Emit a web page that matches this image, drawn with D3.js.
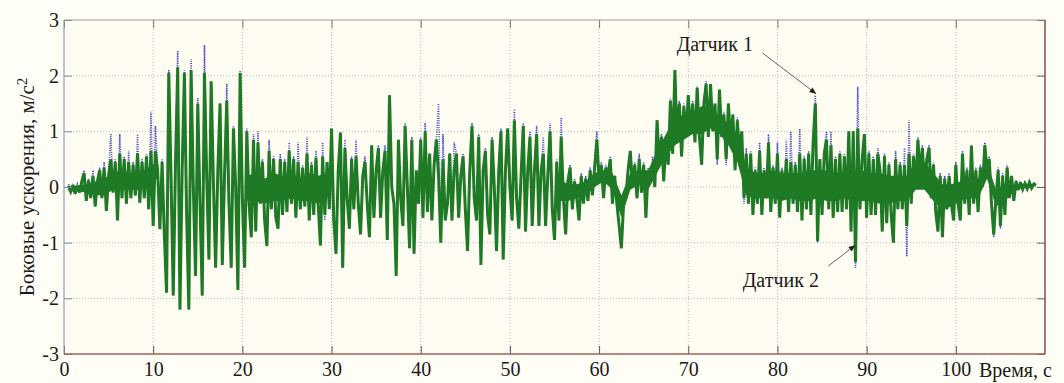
<!DOCTYPE html>
<html>
<head>
<meta charset="utf-8">
<script src="https://cdn.jsdelivr.net/npm/d3@7"></script>
<style>
  body { margin: 0; background: #fffef6; }
  text { font-family: "Liberation Serif", "DejaVu Serif", serif; }
</style>
</head>
<body>
<div id="chart"></div>
<script>
// time axis, s
var xTicks = [0, 10, 20, 30, 40, 50, 60, 70, 80, 90, 100];
var yTicks = [-3, -2, -1, 0, 1, 2, 3];
var xLabel = "Время, с";
var yLabel = "Боковые ускорения, м/с";

// samples start at t0, step dt (s)
var t0 = 0.5, dt = 0.25;

// green trace, m/s^2
var sensorGreen = [
  0.02, -0.08,
  0.03, -0.12, 0.02, -0.1,   0.1, 0.25, -0.25, 0.12,
  -0.2, 0.2, -0.35, 0.1,     0.3, -0.2, 0.35, -0.43,
  0.2, 0.5, -0.1, 0.45,      -0.6, 0.6, -0.2, 0.5,
  -0.3, 0.45, -0.2, 0.4,     -0.15, 0.6, -0.28, 0.45,
  -0.2, 0.55, -0.4, 0.65,    -0.7, 0.65, 0.3, -0.76,
  0.45, -0.85, -1.9, 2.05,   0.2, -1.95, 0.4, 2.15,
  -2.2, 0.3, 2.05, -0.5,     -2.2, 2.1, 0.0, -1.6,
  1.5, -0.3, -1.95, 2.05,    0.2, -1.3, 1.9, 0.1,
  -1.45, 0.3, 1.5, -1.4,     0.2, 1.55, -0.3, -1.45,
  1.05, 0.0, -1.85, 2.05,    -0.2, -1.45, 1.0, -0.3,
  -0.9, 0.85, -0.8, 0.8,     -0.3, 0.45, -0.6, -1.06,
  0.65, -0.4, 0.5, -0.55,    -0.75, 0.5, -0.5, 0.45,
  -0.45, 0.65, -0.3, 0.5,    -0.55, 0.45, -0.4, 0.35,
  -0.35, 0.6, -0.6, 0.4,     -0.5, 0.53, -0.3, -1.05,
  0.55, -0.5, 0.45, -0.4,    1.05, -0.6, -1.2, 0.3,
  0.98, -1.45, 0.7, -0.2,    -0.75, 0.5, -0.4, 0.55,
  -0.3, -0.85, 0.2, 0.45,    -0.3, -0.9, 0.75, -0.55,
  0.3, 0.7, -0.55, 0.3,      0.65, -0.95, 1.65, 0.0,
  -0.3, -1.6, 0.85, -0.2,    -0.7, 1.1, 0.0, -1.1,
  0.85, -1.2, 0.3, -0.3,     0.85, -0.55, 1.0, -0.45,
  0.6, -0.6, 0.4, 0.85,      0.2, -1.0, 0.5, -0.6,
  -0.3, 0.6, -0.6, 0.3,      0.6, -0.55, 0.2, 0.55,
  -0.4, -1.15, 0.3, 1.1,     -0.2, -0.6, 0.9, -1.4,
  0.3, 0.65, -0.5, -0.85,    0.85, 0.0, -1.15, 0.3,
  1.0, -1.3, 0.3, 1.05,      0.0, -0.6, 1.2, -0.2,
  -0.75, 0.2, 1.1, -0.8,     0.3, 0.9, -0.7, 0.3,
  0.95, -0.7, 0.3, 0.6,      -0.7, 0.2, 1.0, -0.4,
  -0.95, 0.45, -0.6, 0.9,    -0.2, -0.85, 0.1, 0.35,
  -0.4, 0.1, -0.2, -0.6,     0.2, -0.3, 0.15, -0.25,
  0.3, -0.15, 0.35, 0.85,    0.1, 0.4, -0.2, 0.35,
  0.2, 0.5, -0.3, 0.2,       -0.3, -0.7, -1.1, -0.3,
  -0.2, 0.3, 0.65, 0.0,      0.4, -0.2, 0.5, -0.1,
  0.4, -0.55, 0.3, 0.1,      0.4, 0.0, 1.2, 0.4,
  0.9, 0.1, 0.85, 0.4,       1.55, 0.6, 2.1, 0.8,
  1.5, 0.55, 1.45, 0.9,      1.65, 1.0, 1.5, 0.8,
  1.78, 0.9, 0.4, 1.5,       1.85, 0.9, 1.85, 1.0,
  1.5, 0.5, 1.75, 0.9,       1.3, 0.5, 1.5, 0.8,
  1.3, 0.3, 1.2, 0.6,        1.0, -0.2, 0.6, -0.3,
  0.6, -0.5, 0.3, -0.3,      0.65, -0.5, 0.3, -0.2,
  0.8, -0.45, 0.35, -0.3,    0.6, -0.55, 0.3, -0.2,
  0.5, -0.45, 0.45, -0.3,    0.4, -0.45, 0.6, -0.6,
  0.5, -0.4, 0.6, -0.5,      0.8, 1.5, -0.97, 0.5,
  -0.5, 0.6, 0.85, -0.4,     0.75, -0.55, 0.5, -0.45,
  0.6, -0.45, 0.55, -0.4,    1.0, -0.8, 1.0, -1.35,
  1.05, -0.4, 0.5, 0.95,     -0.55, 0.6, -0.5, 0.5,
  -0.5, 0.6, 0.3, -0.8,      0.55, -0.65, 0.4, -0.5,
  -1.0, 0.5, -0.4, 0.4,      -0.4, 0.4, -0.7, 0.6,
  -0.3, 0.55, 0.0, 0.85,     0.2, 0.7, 0.0, 0.5,
  0.7, -0.2, 0.4, -0.45,     -0.8, 0.2, -0.9, 0.15,
  -0.4, 0.2, -0.3, -0.6,     0.4, -0.3, -0.6, 0.6,
  -0.3, 0.3, -0.5, 0.74,     -0.3, 0.3, -0.45, 0.35,
  0.0, 0.75, 0.3, 0.5,       -0.3, -0.85, -0.2, 0.3,
  -0.7, 0.2, -0.5, 0.35,     -0.2, 0.2, -0.25, 0.1,
  -0.05, 0.08, -0.04, 0.06,  -0.03, 0.08, -0.02, 0.05,
  0.03
];

// blue dotted trace, m/s^2
var sensorBlue = [
  0.05, -0.05,
  0.06, -0.1, 0.05, -0.08,   0.12, 0.3, -0.25, 0.15,
  -0.2, 0.3, -0.35, 0.15,    0.35, -0.2, 0.45, -0.43,
  0.25, 0.95, -0.1, 0.5,     -0.6, 0.95, -0.2, 0.55,
  -0.3, 0.65, -0.2, 0.45,    -0.15, 0.95, -0.28, 0.5,
  -0.2, 0.6, -0.4, 1.35,     -0.7, 1.1, 0.3, -0.76,
  0.5, -0.85, -1.9, 2.1,     0.2, -1.95, 0.5, 2.45,
  -2.2, 0.3, 2.1, -0.5,      -2.2, 2.3, 0.0, -1.6,
  1.6, -0.3, -1.95, 2.55,    0.2, -1.3, 1.9, 0.1,
  -1.45, 0.3, 1.5, -1.4,     0.2, 1.85, -0.3, -1.45,
  1.1, 0.0, -1.85, 2.1,      -0.2, -1.45, 1.05, -0.3,
  -0.9, 0.95, -0.8, 1.0,     -0.3, 0.5, -0.6, -1.06,
  0.85, -0.4, 0.55, -0.55,   -0.75, 0.6, -0.5, 0.5,
  -0.45, 0.8, -0.3, 0.55,    -0.55, 0.8, -0.4, 0.4,
  -0.35, 0.9, -0.6, 0.45,    -0.5, 0.65, -0.3, -1.05,
  0.8, -0.6, 0.45, -0.4,     1.05, -0.6, -1.2, 0.3,
  0.9, -1.45, 0.85, -0.2,    -0.75, 0.55, -0.4, 0.85,
  -0.3, -0.85, 0.2, 0.55,    -0.3, -0.9, 0.75, -0.55,
  0.3, 0.75, -0.55, 0.3,     0.75, -0.95, 1.6, 0.0,
  -0.3, -1.6, 0.85, -0.2,    -0.7, 1.15, 0.0, -1.1,
  0.9, -1.2, 0.3, -0.3,      0.9, -0.55, 1.15, -0.45,
  0.6, -0.6, 0.5, 0.85,      1.5, -1.0, 0.95, -0.6,
  -0.3, 0.6, -0.6, 0.8,      0.6, -0.55, 0.3, 0.6,
  -0.4, -1.15, 0.3, 1.15,    -0.2, -0.6, 0.95, -1.4,
  0.3, 0.7, -0.5, -0.85,     0.9, 0.0, -1.15, 0.3,
  1.05, -1.3, 0.3, 1.05,     0.0, -0.6, 1.4, -0.2,
  -0.75, 0.2, 1.15, -0.8,    0.3, 1.0, -0.7, 0.3,
  1.1, -0.7, 0.3, 0.9,       -0.7, 0.2, 1.15, -0.4,
  -0.95, 0.5, -0.6, 1.25,    -0.2, -0.85, 0.1, 0.4,
  -0.4, 0.15, -0.2, -0.6,    0.25, -0.3, 0.2, -0.25,
  0.35, -0.15, 0.4, 1.0,     0.1, 0.45, -0.2, 0.4,
  0.2, 0.55, -0.3, 0.2,      -0.4, -0.7, -1.1, -0.3,
  -0.2, 0.35, 0.65, 0.0,     0.45, -0.2, 0.6, -0.1,
  0.45, -0.55, 0.35, 0.1,    0.55, 0.0, 1.2, 0.4,
  0.95, 0.1, 0.9, 0.4,       1.6, 0.6, 2.05, 0.8,
  1.55, 0.55, 1.5, 0.9,      1.6, 1.0, 1.55, 0.8,
  1.8, 0.9, 0.4, 1.55,       1.9, 0.9, 1.8, 1.0,
  1.5, 0.4, 1.7, 0.9,        1.35, 0.4, 1.5, 0.8,
  1.3, 0.3, 1.25, 0.6,       1.0, -0.3, 0.7, -0.3,
  0.65, -0.5, 0.35, -0.3,    0.8, -0.5, 0.35, -0.2,
  0.95, -0.45, 0.4, -0.3,    0.8, -0.55, 0.35, -0.2,
  0.85, -0.45, 1.0, -0.3,    0.45, -0.45, 1.05, -0.6,
  0.55, -0.4, 0.65, -0.5,    0.85, 1.65, -1.0, 0.5,
  -0.5, 0.65, 1.0, -0.4,     1.0, -0.55, 0.55, -0.45,
  0.65, -0.45, 0.6, -0.4,    1.0, -0.8, 1.0, -1.45,
  1.8, -0.4, 0.5, 0.95,      -0.55, 0.65, -0.5, 0.55,
  -0.5, 0.7, 0.3, -0.8,      0.6, -0.65, 0.45, -0.5,
  -1.0, 0.65, -0.4, 0.45,    -0.4, 0.7, -1.25, 1.2,
  -0.3, 0.6, 0.0, 0.9,       0.2, 0.75, 0.0, 0.55,
  0.75, -0.2, 0.45, -0.45,   -0.8, 0.25, -0.9, 0.2,
  -0.4, 0.25, -0.3, -0.6,    0.45, -0.3, -0.6, 0.65,
  -0.3, 0.35, -0.5, 0.75,    -0.3, 0.35, -0.45, 0.4,
  0.0, 0.8, 0.3, 0.55,       -0.3, -0.9, -0.2, 0.35,
  -0.75, 0.25, -0.5, 0.4,    -0.2, 0.2, -0.25, 0.12,
  -0.03, 0.1, -0.02, 0.1,    -0.01, 0.1, 0.0, 0.08,
  0.05
];

// dense core of the green trace, one value per second (centred at k + 0.5 s);
// null where the trace is a clean oscillation with no solid core
var bandT0 = 0.5, bandDt = 1;
var bandLow = [
  -0.08, -0.08, -0.1, -0.15, -0.15, -0.05, -0.05, -0.05, -0.05, 0.05,
  0.15, null, null, null, null, null, null, null, null, null,
  -0.25, -0.25, -0.3, -0.25, -0.25, -0.2, -0.25, -0.25, -0.3, -0.25,
  null, null, null, null, null, null, null, null, null, null,
  null, null, null, null, null, null, null, null, null, null,
  null, null, null, null, null, -0.25, -0.25, -0.2, -0.15, 0.0,
  0.1, -0.05, -0.55, -0.05, 0.05, -0.05, 0.25, 0.55, 0.75, 0.85,
  0.95, 0.95, 1.05, 0.95, 0.75, 0.45, -0.15, -0.2, -0.2, -0.2,
  -0.25, -0.2, -0.25, -0.25, -0.2, -0.25, -0.25, -0.2, -0.25, -0.25,
  -0.25, -0.3, -0.3, -0.25, -0.25, -0.05, -0.05, -0.25, -0.4, -0.35,
  -0.25, -0.2, -0.2, 0.15, -0.35, -0.25, -0.08, -0.02, -0.02
];
var bandHigh = [
  0.0, 0.03, 0.05, 0.1, 0.15, 0.25, 0.3, 0.25, 0.25, 0.35,
  0.45, null, null, null, null, null, null, null, null, null,
  0.2, 0.25, 0.15, 0.25, 0.2, 0.25, 0.15, 0.25, 0.2, 0.25,
  null, null, null, null, null, null, null, null, null, null,
  null, null, null, null, null, null, null, null, null, null,
  null, null, null, null, null, 0.15, 0.05, 0.05, 0.1, 0.25,
  0.3, 0.25, -0.15, 0.25, 0.3, 0.3, 0.65, 0.95, 1.25, 1.3,
  1.35, 1.45, 1.45, 1.25, 1.15, 0.95, 0.35, 0.25, 0.25, 0.3,
  0.25, 0.25, 0.25, 0.3, 0.3, 0.3, 0.25, 0.25, 0.3, 0.3,
  0.25, 0.25, 0.2, 0.2, 0.2, 0.45, 0.45, 0.25, 0.05, 0.05,
  0.1, 0.15, 0.15, 0.45, -0.05, 0.05, 0.04, 0.06, 0.06
];

// callouts: text anchor and arrow tail/tip, in data units (s, m/s^2)
var callouts = [
  { text: "Датчик 1", tx: 68.7, ty: 2.44, x1: 78.3, y1: 2.41, x2: 84.3, y2: 1.68 },
  { text: "Датчик 2", tx: 76.1, ty: -1.8, x1: 85.7, y1: -1.42, x2: 88.7, y2: -1.05 }
];

var width = 1064, height = 383;
var margin = { top: 20, right: 19, bottom: 29, left: 64 };
var w = width - margin.left - margin.right;
var h = height - margin.top - margin.bottom;

var svg = d3.select("#chart").append("svg")
  .attr("width", width)
  .attr("height", height);

var defs = svg.append("defs");
defs.append("clipPath").attr("id", "clip")
  .append("rect").attr("width", w).attr("height", h);
defs.append("marker")
  .attr("id", "arrow")
  .attr("viewBox", "0 0 10 10")
  .attr("refX", 9).attr("refY", 5)
  .attr("markerWidth", 8).attr("markerHeight", 7)
  .attr("markerUnits", "userSpaceOnUse")
  .attr("orient", "auto")
  .append("path").attr("d", "M0,1 L10,5 L0,9 Z").attr("fill", "#222");

var g = svg.append("g")
  .attr("transform", "translate(" + margin.left + "," + margin.top + ")");

var x = d3.scaleLinear().domain([0, 110]).range([0, w]);
var y = d3.scaleLinear().domain([-3, 3]).range([h, 0]);

g.append("rect").attr("width", w).attr("height", h).attr("fill", "#fffdf1");

// dotted grid
g.append("g").selectAll("line")
  .data(xTicks.filter(function(d) { return d > 0; }))
  .enter().append("line")
  .attr("x1", function(d) { return x(d); })
  .attr("x2", function(d) { return x(d); })
  .attr("y1", 0).attr("y2", h)
  .attr("stroke", "#a9b9cc").attr("stroke-width", 1)
  .attr("stroke-dasharray", "1,2");

g.append("g").selectAll("line")
  .data(yTicks.filter(function(d) { return d > -3 && d < 3; }))
  .enter().append("line")
  .attr("x1", 0).attr("x2", w)
  .attr("y1", function(d) { return y(d); })
  .attr("y2", function(d) { return y(d); })
  .attr("stroke", "#b3bfcc").attr("stroke-width", 1)
  .attr("stroke-dasharray", "1,2");

// traces
var line = d3.line()
  .x(function(d, i) { return x(t0 + i * dt); })
  .y(function(d) { return y(d); });

var band = d3.area()
  .defined(function(d) { return d[0] !== null; })
  .x(function(d, i) { return x(bandT0 + i * bandDt); })
  .y0(function(d) { return y(d[0]); })
  .y1(function(d) { return y(d[1]); });

var traces = g.append("g").attr("clip-path", "url(#clip)");

traces.append("path")
  .datum(sensorBlue)
  .attr("d", line)
  .attr("fill", "none")
  .attr("stroke", "#4646d2")
  .attr("stroke-width", 1.6)
  .attr("stroke-dasharray", "1,1.3");

traces.append("path")
  .datum(d3.zip(bandLow, bandHigh))
  .attr("d", band)
  .attr("fill", "#1f7a26");

traces.append("path")
  .datum(sensorGreen)
  .attr("d", line)
  .attr("fill", "none")
  .attr("stroke", "#1f7a26")
  .attr("stroke-width", 3)
  .attr("stroke-linejoin", "miter")
  .attr("stroke-miterlimit", 3);

// axes with inward ticks
var axisFont = function(sel) {
  sel.selectAll("text")
    .style("font-family", "'Liberation Serif', serif")
    .style("font-size", "20px")
    .attr("fill", "#1a1a1a");
  sel.select(".domain").remove();
};
var plain = function(d) { return String(d); };

g.append("g")
  .attr("transform", "translate(0," + h + ")")
  .call(d3.axisBottom(x).tickValues(xTicks).tickFormat(plain)
    .tickSizeInner(-8).tickSizeOuter(0).tickPadding(8))
  .call(axisFont)
  .selectAll("line").attr("stroke", "#555");

g.append("g")
  .call(d3.axisTop(x).tickValues(xTicks).tickSizeInner(-8).tickSizeOuter(0).tickFormat(""))
  .call(axisFont)
  .selectAll("line").attr("stroke", "#777");

g.append("g")
  .call(d3.axisLeft(y).tickValues(yTicks).tickFormat(plain)
    .tickSizeInner(-8).tickSizeOuter(0).tickPadding(5))
  .call(axisFont)
  .selectAll("line").attr("stroke", "#7a8a9c");

g.append("g")
  .attr("transform", "translate(" + w + ",0)")
  .call(d3.axisRight(y).tickValues(yTicks).tickSizeInner(-8).tickSizeOuter(0).tickFormat(""))
  .call(axisFont)
  .selectAll("line").attr("stroke", "#7a5a5a");

// frame
g.append("line").attr("x1", 0).attr("x2", w).attr("y1", 0).attr("y2", 0)
  .attr("stroke", "#9a9a9a").attr("stroke-width", 1.2);
g.append("line").attr("x1", 0).attr("x2", 0).attr("y1", 0).attr("y2", h)
  .attr("stroke", "#8f9db0").attr("stroke-width", 1.2);
g.append("line").attr("x1", 0).attr("x2", w).attr("y1", h).attr("y2", h)
  .attr("stroke", "#a0605a").attr("stroke-width", 1.4);
g.append("line").attr("x1", w).attr("x2", w).attr("y1", 0).attr("y2", h)
  .attr("stroke", "#7a3f3f").attr("stroke-width", 1.4);

// axis titles
g.append("text")
  .attr("x", x(102.6))
  .attr("y", h + 23)
  .style("font-size", "20px")
  .attr("fill", "#1a1a1a")
  .text(xLabel);

var yt = svg.append("text")
  .attr("transform", "translate(34," + (margin.top + h / 2) + ") rotate(-90)")
  .attr("text-anchor", "middle")
  .style("font-size", "21px")
  .attr("fill", "#1a1a1a")
  .text(yLabel);
yt.append("tspan").attr("dy", "-0.5em").style("font-size", "15px").text("2");

// callouts
callouts.forEach(function(c) {
  g.append("line")
    .attr("x1", x(c.x1)).attr("y1", y(c.y1))
    .attr("x2", x(c.x2)).attr("y2", y(c.y2))
    .attr("stroke", "#5a6570").attr("stroke-width", 1)
    .attr("marker-end", "url(#arrow)");
  g.append("text")
    .attr("x", x(c.tx)).attr("y", y(c.ty))
    .style("font-size", "20px")
    .attr("fill", "#1a1a1a")
    .text(c.text);
});
</script>
</body>
</html>
